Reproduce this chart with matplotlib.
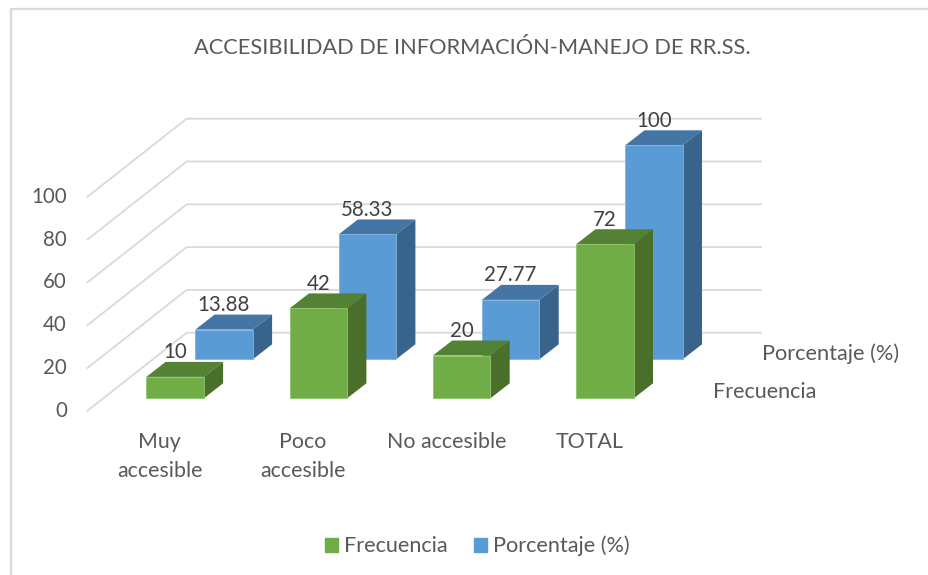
"""Pseudo-3D clustered column chart: accesibilidad de informacion."""

import matplotlib

matplotlib.use("Agg")
import matplotlib.pyplot as plt
from matplotlib.patches import Patch, Polygon, Rectangle

plt.rcParams["font.family"] = ["Lato", "DejaVu Sans"]

categories = ["Muy\naccesible", "Poco\naccesible", "No accesible", "TOTAL"]
frecuencia = [10, 42, 20, 72]
porcentaje = [13.88, 58.33, 27.77, 100]
frecuencia_labels = ["10", "42", "20", "72"]
porcentaje_labels = ["13.88", "58.33", "27.77", "100"]
y_ticks = [0, 20, 40, 60, 80, 100]
series_names = ["Frecuencia", "Porcentaje (%)"]
title = "ACCESIBILIDAD DE INFORMACIÓN-MANEJO DE RR.SS."

# layout of the projection, in output pixels
PX_PER_UNIT = 2.14
BAR_W = 57.5
CAT_STEP = 143.3
FIRST_X = 146.3
DEPTH_DX, DEPTH_DY = 19.3, -15.0
SERIES_DX, SERIES_BASE = [0.0, 49.0], [398.3, 359.3]

GREEN = ("#70ad47", "#548235", "#4a6f2a", "#8fc46c")
BLUE = ("#5b9bd5", "#4575a4", "#38638a", "#82b4e0")
GRID = "#d9d9d9"
TEXT = "#595959"
LABEL = "#404040"


def draw_bar(ax, index, series, value, colors, label):
    """Draw one box from its front face, top and side."""
    x0 = FIRST_X + index * CAT_STEP + SERIES_DX[series]
    x1 = x0 + BAR_W
    base = SERIES_BASE[series]
    top = base - value * PX_PER_UNIT
    front, roof, side, edge = colors
    ax.add_patch(
        Polygon(
            [(x0, top), (x1, top), (x1 + DEPTH_DX, top + DEPTH_DY), (x0 + DEPTH_DX, top + DEPTH_DY)],
            facecolor=roof,
            lw=0,
            zorder=3,
        )
    )
    ax.add_patch(
        Polygon(
            [(x1, top), (x1 + DEPTH_DX, top + DEPTH_DY), (x1 + DEPTH_DX, base + DEPTH_DY), (x1, base)],
            facecolor=side,
            lw=0,
            zorder=3,
        )
    )
    ax.add_patch(Rectangle((x0, top), BAR_W, base - top, facecolor=front, edgecolor=edge, lw=0.6, zorder=3))
    ax.text((x0 + x1) / 2, top - 24.5, label, ha="center", va="center", fontsize=14.8, color=LABEL, zorder=5)


fig = plt.figure(figsize=(9.29, 5.75), dpi=100)
ax = fig.add_axes([0, 0, 1, 1])
ax.set_xlim(0, 929)
ax.set_ylim(575, 0)
ax.axis("off")

# chart frame, open on the right and at the bottom
ax.plot([11, 11, 929], [575, 9, 9], color=GRID, lw=1.6)

# walls
for tick in y_ticks:
    rise = tick * PX_PER_UNIT
    ax.plot(
        [87.5, 186.7, 761],
        [410.7 - rise, 332.7 - rise, 332.7 - rise],
        color=GRID,
        lw=1.3,
        zorder=1,
    )
    ax.text(67, 410.7 - rise, str(tick), ha="right", va="center", fontsize=14.8, color=TEXT)

for i, value in enumerate(porcentaje):
    draw_bar(ax, i, 1, value, BLUE, porcentaje_labels[i])
for i, value in enumerate(frecuencia):
    draw_bar(ax, i, 0, value, GREEN, frecuencia_labels[i])

for i, name in enumerate(categories):
    ax.text(
        FIRST_X + i * CAT_STEP + 13.5,
        442 + 14.5 * name.count("\n"),
        name,
        ha="center",
        va="center",
        fontsize=15.4,
        color=TEXT,
        linespacing=1.6,
    )

ax.text(713, 391.5, series_names[0], ha="left", va="center", fontsize=15.5, color=TEXT)
ax.text(762.5, 353.5, series_names[1], ha="left", va="center", fontsize=15.7, color=TEXT)

ax.text(472.5, 48.5, title, ha="center", va="center", fontsize=15.7, color=TEXT)

ax.legend(
    handles=[Patch(color=GREEN[0]), Patch(color=BLUE[0])],
    labels=series_names,
    ncol=2,
    loc="center",
    bbox_to_anchor=(477.5, 546),
    bbox_transform=ax.transData,
    frameon=False,
    fontsize=15.6,
    labelcolor=TEXT,
    handlelength=0.6,
    handleheight=0.6,
    handletextpad=0.3,
    columnspacing=1.2,
)

fig.savefig("out.png", dpi=100)
plt.close(fig)
